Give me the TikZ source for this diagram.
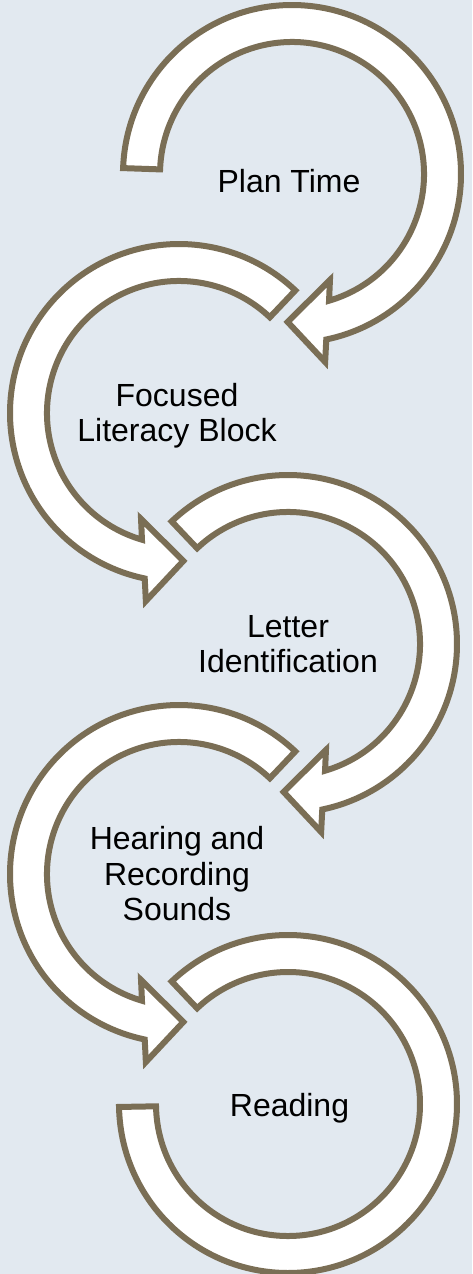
\documentclass[tikz,border=0pt]{standalone}
\usepackage{fontspec}
\setmainfont{Liberation Sans}
\usetikzlibrary{calc}
\definecolor{paper}{RGB}{226,233,240}
\definecolor{rim}{RGB}{122,110,85}
\begin{document}
\begin{tikzpicture}[x=1pt,y=1pt,
  band/.style={draw=rim,fill=white,line width=6pt,line join=miter},
  label/.style={inner sep=0pt,align=center,anchor=base,text=black,
    font=\fontsize{32}{35.7}\selectfont}]
% canvas
\fill[paper] (0,0) rectangle (472,-1274);
\useasboundingbox (0,0) rectangle (472,-1274);

% ring centres
\coordinate (c1) at (292,-174);
\coordinate (c2) at (179,-413);
\coordinate (c3) at (288,-644);
\coordinate (c4) at (179,-874);
\coordinate (c5) at (288,-1104);

% clockwise arrow, tail on the left, head at the bottom
\draw[band] ($(c1)+(178:169)$) arc[start angle=178,end angle=-78.3,radius=169]
  -- ($(c1)+(-80:190.9)$) -- ($(c1)+(-91.7:148)$) -- ($(c1)+(-70.3:112.6)$)
  -- ($(c1)+(-73.7:132)$) arc[start angle=-73.7,end angle=178,radius=132] -- cycle;

% counter-clockwise arrow
\draw[band] ($(c2)+(46.5:169)$) arc[start angle=46.5,end angle=258.3,radius=169]
  -- ($(c2)+(260:190.9)$) -- ($(c2)+(271.7:148)$) -- ($(c2)+(250.3:112.6)$)
  -- ($(c2)+(253.7:132)$) arc[start angle=253.7,end angle=46.5,radius=132] -- cycle;

% clockwise arrow
\draw[band] ($(c3)+(133.5:169)$) arc[start angle=133.5,end angle=-78.3,radius=169]
  -- ($(c3)+(-80:190.9)$) -- ($(c3)+(-91.7:148)$) -- ($(c3)+(-70.3:112.6)$)
  -- ($(c3)+(-73.7:132)$) arc[start angle=-73.7,end angle=133.5,radius=132] -- cycle;

% counter-clockwise arrow
\draw[band] ($(c4)+(46.5:169)$) arc[start angle=46.5,end angle=258.3,radius=169]
  -- ($(c4)+(260:190.9)$) -- ($(c4)+(271.7:148)$) -- ($(c4)+(250.3:112.6)$)
  -- ($(c4)+(253.7:132)$) arc[start angle=253.7,end angle=46.5,radius=132] -- cycle;

% closing ring without a head
\draw[band] ($(c5)+(133.5:169)$) arc[start angle=133.5,end angle=-179,radius=169]
  -- ($(c5)+(-179:132)$) arc[start angle=-179,end angle=133.5,radius=132] -- cycle;

% step labels (base anchor sits on the last line)
\node[label] (t1) at (289,-192.7) {Plan Time};
\node[label] (t2) at (177,-441.7) {Focused\\Literacy Block};
\node[label] (t3) at (288,-672.7) {Letter\\Identification};
\node[label] (t4) at (177,-920.7) {Hearing and\\Recording\\Sounds};
\node[label] (t5) at (289.5,-1116) {Reading};
\end{tikzpicture}
\end{document}
